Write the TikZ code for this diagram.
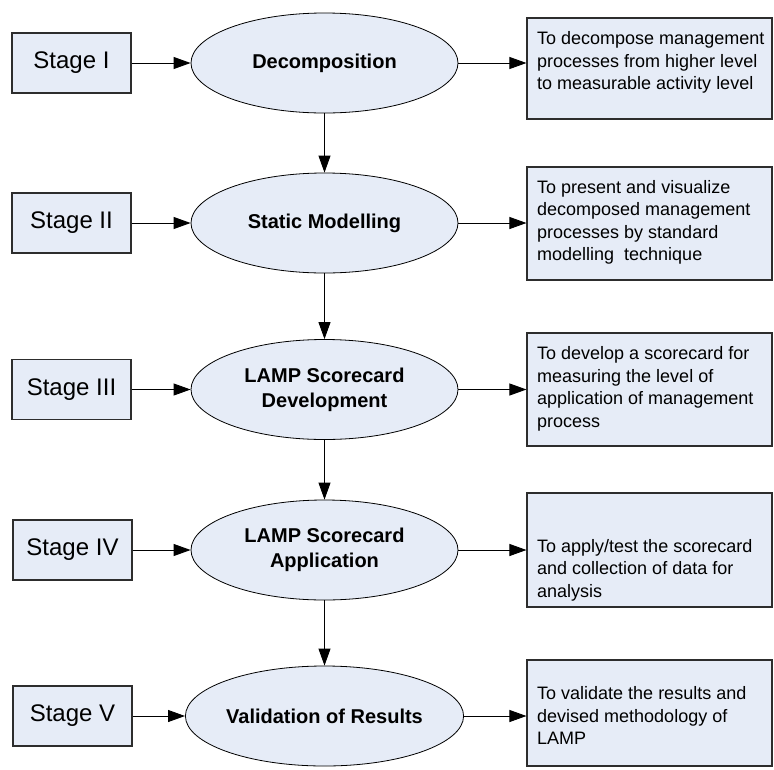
\documentclass[tikz,border=0pt]{standalone}
\usepackage{fontspec}
\setmainfont{Liberation Sans}
\usetikzlibrary{arrows.meta,shapes.geometric}
\definecolor{boxfill}{RGB}{230,236,247}
\definecolor{edge}{RGB}{45,45,45}
\begin{document}
\begin{tikzpicture}[x=1pt,y=-1pt,
  stagebox/.style={draw=edge, line width=1.1pt, fill=boxfill,
    minimum width=119pt, minimum height=60pt, inner sep=0pt,
    font=\fontsize{24}{29}\selectfont},
  phase/.style={ellipse, draw=black, line width=0.8pt, fill=boxfill,
    minimum width=267pt, minimum height=100pt, inner sep=0pt, align=center,
    font=\fontsize{20}{25}\selectfont\bfseries},
  aimbox/.style={draw=edge, line width=1.1pt, fill=boxfill,
    minimum width=245pt, inner sep=0pt},
  aimtext/.style={anchor=west, align=left, inner sep=0pt,
    font=\fontsize{18}{22.5}\selectfont},
  flow/.style={-{Triangle[length=17pt,width=12pt]}, line width=0.9pt}]
\useasboundingbox (0,0) rectangle (774,769);

% stage labels
\node[stagebox] (s1) at (71.5,63)    {Stage I};
\node[stagebox] (s2) at (71.5,223)   {Stage II};
\node[stagebox] (s3) at (71.5,389.5) {Stage III};
\node[stagebox] (s4) at (72.5,550)   {Stage IV};
\node[stagebox] (s5) at (72.5,716)   {Stage V};

% process steps
\node[phase] (e1) at (324.5,63)    {Decomposition};
\node[phase] (e2) at (324.5,223)   {Static Modelling};
\node[phase] (e3) at (324.5,389.5) {LAMP Scorecard\\Development};
\node[phase] (e4) at (324.5,550)   {LAMP Scorecard\\Application};
\node[phase] (e5) at (324.5,716)   {Validation of Results};

% objective boxes
\node[aimbox, minimum height=101pt] (a1) at (649.5,68.5)  {};
\node[aimbox, minimum height=113pt] (a2) at (649.5,223.5) {};
\node[aimbox, minimum height=113pt] (a3) at (649.5,389.5) {};
\node[aimbox, minimum height=114pt] (a4) at (649.5,550)   {};
\node[aimbox, minimum height=106pt] (a5) at (649.5,713)   {};

\node[aimtext] (t1) at (537,62.5)  {To decompose management\\processes from higher level\\to measurable activity level};
\node[aimtext] (t2) at (537,222.5) {To present and visualize\\decomposed management\\processes by standard\\modelling\ \ technique};
\node[aimtext] (t3) at (537,389)   {To develop a scorecard for\\measuring the level of\\application of management\\process};
\node[aimtext] (t4) at (537,570)   {To apply/test the scorecard\\and collection of data for\\analysis};
\node[aimtext] (t5) at (537,715.5) {To validate the results and\\devised methodology of\\LAMP};

% connectors
\foreach \i in {1,...,5} {
  \draw[flow] (s\i.east) -- (e\i.west);
  \draw[flow] (e\i.east) -- (e\i.east -| a\i.west);
}
\foreach \i/\j in {1/2,2/3,3/4,4/5}
  \draw[flow] (e\i.south) -- (e\j.north);
\end{tikzpicture}
\end{document}
